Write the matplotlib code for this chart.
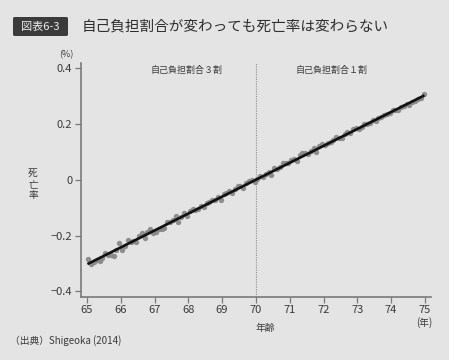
#
# 図表6-3: 自己負担割合が変わっても死亡率は変わらない (Shigeoka 2014)
#

import matplotlib
matplotlib.use("Agg")
import matplotlib.pyplot as plt
from matplotlib.patches import FancyBboxPatch
import numpy as np

plt.rcParams['font.family'] = ['Noto Sans CJK JP', 'DejaVu Sans']

# age in months since 65th birthday (bin index), one point per month
age_months = list(range(0, 120))

# mortality residual (%)
mortality = [
    -0.283, -0.302, -0.296, -0.288, -0.291, -0.279, -0.262, -0.268, -0.271, -0.273,
    -0.251, -0.226, -0.251, -0.238, -0.216, -0.224, -0.221, -0.222, -0.201, -0.192,
    -0.207, -0.186, -0.176, -0.191, -0.186, -0.178, -0.177, -0.172, -0.153, -0.151,
    -0.144, -0.131, -0.150, -0.132, -0.118, -0.131, -0.113, -0.104, -0.109, -0.104,
    -0.094, -0.096, -0.082, -0.079, -0.074, -0.073, -0.062, -0.071, -0.052, -0.047,
    -0.041, -0.048, -0.033, -0.024, -0.021, -0.028, -0.011, -0.005, -0.002, -0.009,
    0.004, 0.012, 0.009, 0.021, 0.026, 0.017, 0.041, 0.038, 0.047, 0.059,
    0.061, 0.060, 0.071, 0.074, 0.066, 0.088, 0.094, 0.097, 0.091, 0.104,
    0.113, 0.101, 0.121, 0.127, 0.124, 0.131, 0.134, 0.141, 0.152, 0.151,
    0.148, 0.163, 0.172, 0.166, 0.181, 0.186, 0.183, 0.189, 0.201, 0.198,
    0.204, 0.213, 0.209, 0.221, 0.226, 0.232, 0.236, 0.239, 0.251, 0.249,
    0.248, 0.261, 0.264, 0.272, 0.268, 0.277, 0.283, 0.289, 0.291, 0.306,
]

# fitted line end points
fit_age = [65.05, 74.95]
fit_value = [-0.300, 0.300]

x_ticks = [65, 66, 67, 68, 69, 70, 71, 72, 73, 74, 75]
y_ticks = [-0.4, -0.2, 0, 0.2, 0.4]
y_tick_labels = ['−0.4', '−0.2', '0', '0.2', '0.4']

BG = '#e4e4e4'
AXIS = '#7a7a7a'
TEXT = '#3a3a3a'

ages = 65 + (np.array(age_months) + 0.5) / 12.0

fig = plt.figure(figsize=(4.49, 3.6), dpi=100, facecolor=BG)
ax = fig.add_axes([0.180, 0.175, 0.780, 0.650], facecolor=BG)

ax.scatter(ages, mortality, s=15, color='#858585', alpha=0.9, linewidths=0, zorder=2)
ax.plot(fit_age, fit_value, color='#111111', linewidth=1.9, zorder=3)
ax.axvline(70, color='#8a8a8a', linestyle=(0, (1, 1.2)), linewidth=0.8, zorder=1)

ax.set_xlim(64.82, 75.18)
ax.set_ylim(-0.42, 0.418)
ax.set_xticks(x_ticks)
ax.set_yticks(y_ticks)
ax.set_yticklabels(y_tick_labels)

for side in ['top', 'right']:
    ax.spines[side].set_visible(False)
for side in ['left', 'bottom']:
    ax.spines[side].set_color(AXIS)
    ax.spines[side].set_linewidth(1.2)
ax.tick_params(direction='out', length=4, width=0.9, color=AXIS,
               labelsize=8, labelcolor=TEXT, pad=2)

# region labels
ax.text(67.95, 0.39, '自己負担割合３割', ha='center', va='center', fontsize=6.5, color=TEXT)
ax.text(72.25, 0.39, '自己負担割合１割', ha='center', va='center', fontsize=6.5, color=TEXT)

# title
box = FancyBboxPatch((13 / 449, 1 - 36 / 360), 55 / 449, 19 / 360,
                     boxstyle='round,pad=0,rounding_size=0.004',
                     transform=fig.transFigure, facecolor='#3b3b3b', edgecolor='none')
fig.patches.append(box)
fig.text(40.5 / 449, 1 - 26.5 / 360, '図表6-3', ha='center', va='center',
         fontsize=8, color='#eeeeee')
fig.text(82 / 449, 1 - 26.5 / 360, '自己負担割合が変わっても死亡率は変わらない',
         ha='left', va='center', fontsize=10.5, color='#2e2e2e')

# axis labels
fig.text(66 / 449, 1 - 55 / 360, '(%)', ha='center', va='center', fontsize=6.5, color=TEXT)
for ch, yy in zip('死亡率', [173, 184, 195]):
    fig.text(33 / 449, 1 - yy / 360, ch, ha='center', va='center', fontsize=7, color=TEXT)
fig.text(265 / 449, 1 - 328 / 360, '年齢', ha='center', va='center', fontsize=7, color=TEXT)
fig.text(424 / 449, 1 - 323 / 360, '(年)', ha='center', va='center', fontsize=7, color=TEXT)

# source
fig.text(10 / 449, 1 - 341 / 360, '（出典）Shigeoka (2014)', ha='left', va='center',
         fontsize=7, color=TEXT)

fig.savefig('out.png', dpi=100, facecolor=BG)
